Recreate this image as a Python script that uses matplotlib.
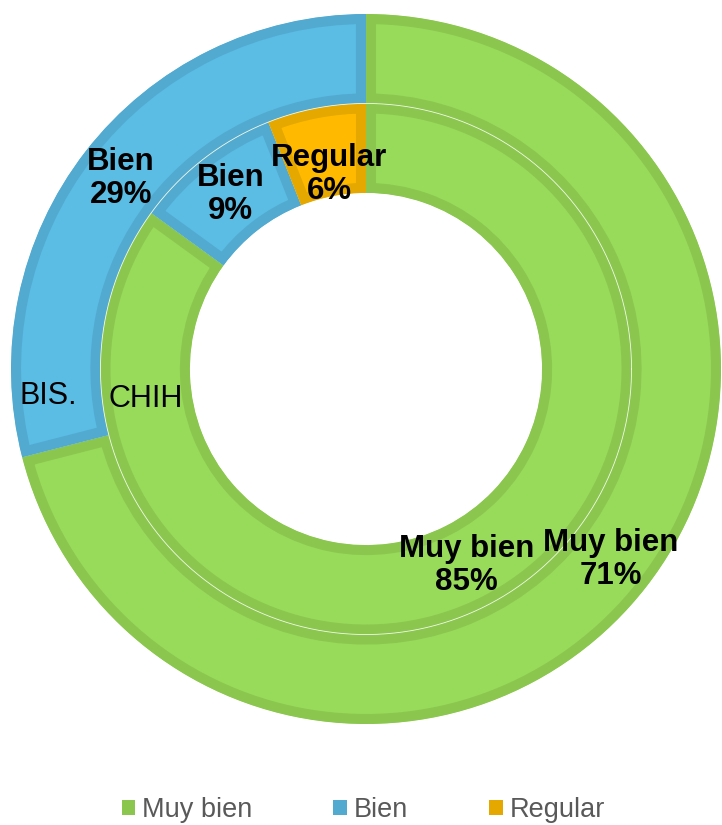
import numpy as np
import matplotlib.pyplot as plt
from matplotlib.patches import Patch

plt.rcParams['font.family'] = ['Liberation Sans', 'DejaVu Sans']

categories = ['Muy bien', 'Bien', 'Regular']
bis_values = [71, 29]
chih_values = [85, 9, 6]
ring_names = ['BIS.', 'CHIH']

fill_colors = ['#98DB5A', '#5BBDE3', '#FFBA00']
edge_colors = ['#8BC74E', '#52AAD1', '#E5A800']

fig = plt.figure(figsize=(7.22, 8.25), dpi=100)
W, H = 722, 825
cx, cy, R = 366, 825 - 369, 355
ax = fig.add_axes([(cx - R) / W, (cy - R) / H, 2 * R / W, 2 * R / H])


def ring(values, radius, width):
    n = len(values)
    wedges, _ = ax.pie(values, radius=radius, startangle=90, counterclock=False,
                       colors=fill_colors[:n],
                       wedgeprops=dict(width=width, linewidth=14.5))
    for w, ec in zip(wedges, edge_colors[:n]):
        w.set_edgecolor(ec)
        # keep the thick border inside each wedge
        w.set_clip_path(w.get_path(), w.get_transform())
        w.set_clip_on(True)
    return wedges


outer_r, outer_w = 1.0, 0.252
inner_r, inner_w = 0.748, 0.252

outer = ring(bis_values, outer_r, outer_w)
inner = ring(chih_values, inner_r, inner_w)

# faint line between the two rings
t = np.linspace(0, 2 * np.pi, 400)
ax.plot(inner_r * np.cos(t), inner_r * np.sin(t), color='#eef7e4', lw=0.6)

ax.set_xlim(-1, 1)
ax.set_ylim(-1, 1)
ax.set_aspect('equal')
ax.axis('off')


def label(wedges, values, radius, width, shift=None):
    rm = radius - width / 2
    for i, (w, v, name) in enumerate(zip(wedges, values, categories)):
        ang = np.deg2rad((w.theta1 + w.theta2) / 2)
        r = rm - (shift[i] if shift else 0)
        ax.text(r * np.cos(ang), r * np.sin(ang), f'{name}\n{v}%',
                ha='center', va='center', fontsize=22.5, fontweight='bold',
                linespacing=1.12, color='black')


label(outer, bis_values, outer_r, outer_w)
label(inner, chih_values, inner_r, inner_w, shift=[0, 0, 0.065])

# series names
ax.text(-0.895, -0.075, ring_names[0], ha='center', va='center',
        fontsize=22, color='black')
ax.text(-0.62, -0.085, ring_names[1], ha='center', va='center',
        fontsize=22, color='black')

handles = [Patch(facecolor=c, edgecolor='none') for c in edge_colors]
fig.legend(handles, categories, loc='center', bbox_to_anchor=(0.503, 1 - 810 / H),
           ncol=3, frameon=False, fontsize=19.5, labelcolor='#595959',
           handlelength=0.5, handleheight=0.5, handletextpad=0.25,
           columnspacing=3.0, borderpad=0)

fig.savefig('out.png', dpi=100)
